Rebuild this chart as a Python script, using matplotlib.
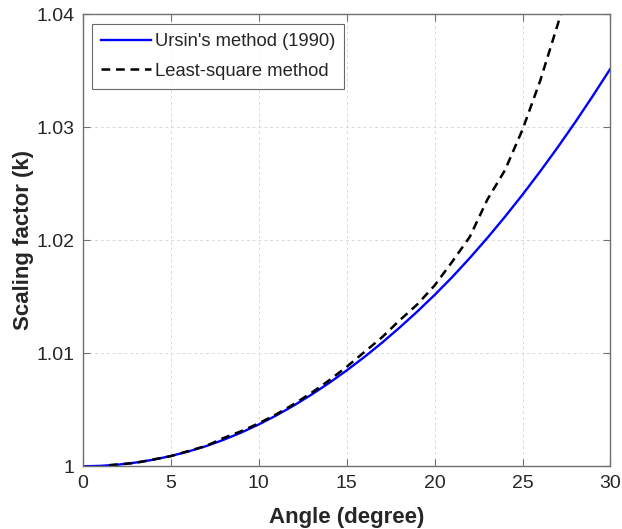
import matplotlib
matplotlib.use('Agg')
import matplotlib.pyplot as plt

# values
angle_ursin = list(range(0, 31))
k_ursin = [1.0000, 1.00004, 1.000145, 1.00033, 1.00058, 1.00091, 1.00131, 1.00178,
           1.00234, 1.00298, 1.0037, 1.0045, 1.00538, 1.00634, 1.00737, 1.00848,
           1.00966, 1.01092, 1.01226, 1.01367, 1.01516, 1.01674, 1.01843, 1.02021,
           1.02208, 1.02404, 1.02609, 1.02823, 1.03046, 1.03279, 1.0352]

angle_ls = [1.5, 3, 5, 7, 8, 9, 10, 11, 12, 13, 14, 15, 16, 17, 18, 19,
            20, 21, 22, 23, 24, 25, 26, 27, 27.4]
k_ls = [1.0001, 1.0003, 1.0009, 1.0018, 1.0025, 1.0031, 1.0038, 1.0046,
        1.0055, 1.0065, 1.0076, 1.0088, 1.0101, 1.0114, 1.0129, 1.0143,
        1.0160, 1.0181, 1.0203, 1.0236, 1.0262, 1.0298, 1.0341, 1.0391, 1.0412]

xticks = [0, 5, 10, 15, 20, 25, 30]
yticks = [1.00, 1.01, 1.02, 1.03, 1.04]
ytick_labels = ['1', '1.01', '1.02', '1.03', '1.04']

plt.rcParams['font.family'] = ['Liberation Sans', 'DejaVu Sans']
text_col = '#262626'
edge_col = '#707070'

fig = plt.figure(figsize=(6.22, 5.29), dpi=100)
ax = fig.add_axes([0.1330, 0.1185, 0.9815 - 0.1330, 0.973 - 0.1185])

ax.plot(angle_ursin, k_ursin, color='#0000ff', lw=1.7, label="Ursin's method (1990)")
ax.plot(angle_ls, k_ls, color='black', lw=1.8, linestyle=(0, (3.5, 2.3)),
        label='Least-square method')

ax.set_xlim(0, 30)
ax.set_ylim(1.0, 1.04)
ax.set_xticks(xticks)
ax.set_yticks(yticks)
ax.set_yticklabels(ytick_labels)

ax.grid(True, color='#d9d9d9', linestyle=(0, (3, 3)), linewidth=0.7)
ax.set_axisbelow(True)
for s in ax.spines.values():
    s.set_color(edge_col)
    s.set_linewidth(1.0)
ax.tick_params(direction='in', length=5, width=0.8, colors=edge_col,
               labelcolor=text_col, labelsize=14, top=True, right=True, pad=6)

ax.set_xlabel('Angle (degree)', fontsize=16, fontweight='bold', color=text_col, labelpad=11)
ax.set_ylabel('Scaling factor (k)', fontsize=16, fontweight='bold', color=text_col, labelpad=1.5)

leg = ax.legend(loc='upper left', bbox_to_anchor=(0.0177, 0.9785), fontsize=13.2,
                frameon=True, fancybox=False, handlelength=2.7, handletextpad=0.22,
                borderpad=0.5, labelspacing=0.69, borderaxespad=0.0)
leg.get_frame().set_edgecolor('#444444')
leg.get_frame().set_linewidth(0.8)
for t in leg.get_texts():
    t.set_color(text_col)

fig.savefig('out.png', dpi=100)
